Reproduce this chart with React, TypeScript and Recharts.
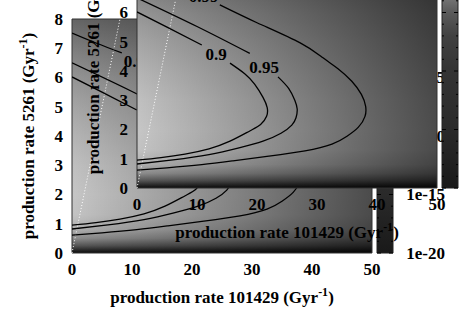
import React from 'react';
import { ComposedChart, XAxis, YAxis, Line, ReferenceArea, ReferenceLine, ReferenceDot } from 'recharts';

const FONT = '"Liberation Serif", "Times New Roman", serif';

const xTicks = [0, 10, 20, 30, 40, 50];
const yTicks = [0, 1, 2, 3, 4, 5, 6, 7, 8];

// contour lines (x = rate 101429, y = rate 5261); null leaves room for the label
const contour090 = [
  { x: 0, y: 6.02 }, { x: 5, y: 5.5 }, { x: 10.8, y: 4.89 }, { x: 12, y: null },
  { x: 15.5, y: 4.27 }, { x: 18, y: 3.9 }, { x: 19.6, y: 3.55 }, { x: 21, y: 3.1 },
  { x: 21.7, y: 2.75 }, { x: 21.6, y: 2.45 }, { x: 20.6, y: 2.17 }, { x: 18.8, y: 1.95 },
  { x: 15.5, y: 1.6 }, { x: 12, y: 1.34 }, { x: 8, y: 1.16 }, { x: 4, y: 1.04 }, { x: 0, y: 0.95 },
];
const contour095 = [
  { x: 0, y: 6.5 }, { x: 10, y: 5.52 }, { x: 18.8, y: 4.6 }, { x: 20, y: null },
  { x: 23.5, y: 3.8 }, { x: 25.3, y: 3.4 }, { x: 26.3, y: 3.0 }, { x: 26.7, y: 2.7 },
  { x: 26.5, y: 2.4 }, { x: 25.8, y: 2.15 }, { x: 24, y: 1.87 }, { x: 21, y: 1.6 },
  { x: 17, y: 1.37 }, { x: 12, y: 1.14 }, { x: 6, y: 0.96 }, { x: 0, y: 0.82 },
];
const contour099 = [
  { x: 0, y: 7.52 }, { x: 4, y: 7.18 }, { x: 8.3, y: 6.84 }, { x: 10, y: null },
  { x: 13.8, y: 6.26 }, { x: 20, y: 5.65 }, { x: 27.2, y: 4.96 }, { x: 31, y: 4.45 },
  { x: 33.5, y: 4.08 }, { x: 35.8, y: 3.65 }, { x: 37.4, y: 3.2 }, { x: 38.1, y: 2.8 },
  { x: 38, y: 2.45 }, { x: 36.9, y: 2.08 }, { x: 35, y: 1.77 }, { x: 32.5, y: 1.5 },
  { x: 28, y: 1.27 }, { x: 22, y: 1.09 }, { x: 16, y: 0.93 }, { x: 10.8, y: 0.8 },
  { x: 5, y: 0.69 }, { x: 0, y: 0.61 },
];
const contours = [contour090, contour095, contour099];

const labelX = [13.2, 21.2, 11.1];
const labelY = [4.57, 4.12, 6.55];
const labelText = ['0.9', '0.95', '0.99'];

// grey level of the map along the left edge (x = 0)
const heatY = [0, 0.1, 0.25, 0.5, 0.8, 1.3, 2, 3, 4, 5, 6, 7, 8];
const heatGray = [10, 40, 85, 140, 175, 195, 198, 192, 180, 165, 148, 125, 100];

// colour box: 1e-20 .. 1
const cbTicks = [1e-20, 1e-19, 1e-18, 1e-17, 1e-16, 1e-15, 1e-14, 1e-13, 1e-12, 1e-11, 1e-10,
  1e-9, 1e-8, 1e-7, 1e-6, 1e-5, 1e-4, 1e-3, 1e-2, 1e-1, 1];
const cbLabels = [1e-20, 1e-15, 1e-10, 1e-5];
const cbOffset = [0, 0.15, 0.2, 0.25, 0.35, 0.5, 0.75, 1];
const cbGray = [200, 130, 112, 90, 65, 52, 42, 25];

const txt = { fill: '#000', fontSize: 17, fontWeight: 700, fontFamily: FONT };
const gray = (g: number) => `rgb(${g},${g},${g})`;

function XTick(props: any) {
  const { x, y, payload } = props;
  return <text x={x} y={y} dy="0.71em" textAnchor="middle" {...txt}>{payload.value}</text>;
}

function YTick(props: any) {
  const { x, y, payload } = props;
  return <text x={x} y={y} dy="0.35em" textAnchor="end" {...txt}>{payload.value}</text>;
}

function XTitle(props: any) {
  const { viewBox } = props;
  return (
    <text x={viewBox.x + viewBox.width / 2} y={viewBox.y + 50} textAnchor="middle" {...txt}>
      <tspan>production rate 101429 (Gyr</tspan>
      <tspan dy={-7} fontSize={12}>-1</tspan>
      <tspan dy={7}>)</tspan>
    </text>
  );
}

function YTitle(props: any) {
  const { viewBox } = props;
  const cx = 33.5;
  const cy = viewBox.y + viewBox.height / 2;
  return (
    <text x={cx} y={cy} transform={`rotate(-90 ${cx} ${cy})`} textAnchor="middle" {...txt}>
      <tspan>production rate 5261 (Gyr</tspan>
      <tspan dy={-7} fontSize={12}>-1</tspan>
      <tspan dy={7}>)</tspan>
    </text>
  );
}

function CbTick(props: any) {
  const { x, y, payload } = props;
  const e = Math.round(Math.log10(payload.value));
  const major = cbLabels.some((m) => Math.round(Math.log10(m)) === e);
  const len = major ? 4 : 2;
  return (
    <g>
      <line x1={x - 16} x2={x - 16 + len} y1={y} y2={y} stroke="#000" />
      <line x1={x - len} x2={x} y1={y} y2={y} stroke="#000" />
      {major && <text x={x + 52} y={y} dy="0.35em" textAnchor="end" {...txt}>{`1e${e}`}</text>}
    </g>
  );
}

function Panel({ id, left, top }: { id: string; left: number; top: number }) {
  return (
    <div style={{ position: 'absolute', left, top, width: 463, height: 324 }}>
      <div style={{ position: 'absolute', left: 0, top: 0 }}>
        <ComposedChart width={463} height={324} margin={{ top: 19, right: 91, bottom: 21, left: 0 }}>
          <defs>
            <linearGradient id={`${id}v`} x1="0" y1="0" x2="0" y2="1">
              {heatY.map((_, i) => {
                const j = heatY.length - 1 - i;
                return <stop key={i} offset={(8 - heatY[j]) / 8} stopColor={gray(heatGray[j])} />;
              })}
            </linearGradient>
            <linearGradient id={`${id}h`} x1="0" y1="0" x2="1" y2="0">
              <stop offset={0} stopColor="#000" stopOpacity={0} />
              <stop offset={1} stopColor="#000" stopOpacity={0.62} />
            </linearGradient>
          </defs>
          <XAxis type="number" dataKey="x" domain={[0, 50]} ticks={xTicks} height={50}
            axisLine={false} tickLine={false} tickSize={0} tickMargin={10} tick={<XTick />}
            allowDataOverflow label={<XTitle />} />
          <YAxis type="number" dataKey="y" domain={[0, 8]} ticks={yTicks} width={72}
            axisLine={false} tickLine={false} tickSize={0} tickMargin={9} tick={<YTick />}
            allowDataOverflow label={<YTitle />} />
          <ReferenceArea x1={0} x2={50} y1={0} y2={8} fill={`url(#${id}v)`} fillOpacity={1} stroke="none" />
          <ReferenceArea x1={0} x2={50} y1={0} y2={8} fill={`url(#${id}h)`} fillOpacity={1} stroke="#333" strokeWidth={1} />
          <ReferenceLine segment={[{ x: 0, y: 0 }, { x: 8, y: 8 }]} stroke="#fff" strokeDasharray="1 2" strokeWidth={1} />
          {contours.map((c, i) => (
            <Line key={i} data={c} dataKey="y" type="natural" stroke="#000" strokeWidth={1.3}
              dot={false} activeDot={false} connectNulls={false} isAnimationActive={false} />
          ))}
          {labelText.map((t, i) => (
            <ReferenceDot key={t} x={labelX[i]} y={labelY[i]} r={0}
              shape={(p: any) => <text x={p.cx} y={p.cy} dy="0.35em" textAnchor="middle" {...txt}>{t}</text>} />
          ))}
        </ComposedChart>
      </div>
      <div style={{ position: 'absolute', left: 0, top: 0 }}>
        <ComposedChart width={463} height={324} margin={{ top: 19, right: 0, bottom: 71, left: 377 }}>
          <defs>
            <linearGradient id={`${id}cb`} x1="0" y1="0" x2="0" y2="1">
              {cbOffset.map((o, i) => <stop key={i} offset={o} stopColor={gray(cbGray[i])} />)}
            </linearGradient>
          </defs>
          <XAxis type="number" dataKey="x" domain={[0, 1]} hide allowDataOverflow />
          <YAxis orientation="right" type="number" scale="log" domain={[1e-20, 1]} ticks={cbTicks} width={70}
            axisLine={false} tickLine={false} tickSize={0} tickMargin={0} interval={0}
            allowDataOverflow tick={<CbTick />} />
          <ReferenceArea x1={0} x2={1} y1={1e-20} y2={1} ifOverflow="visible"
            fill={`url(#${id}cb)`} fillOpacity={1} stroke="#222" strokeWidth={1} />
        </ComposedChart>
      </div>
    </div>
  );
}

export default function App() {
  return (
    <div style={{ position: 'absolute', left: 0, top: 0, width: 463, height: 324, overflow: 'hidden', background: '#fff' }}>
      <Panel id="m" left={0} top={0} />
      <Panel id="i" left={65} top={-65} />
    </div>
  );
}
